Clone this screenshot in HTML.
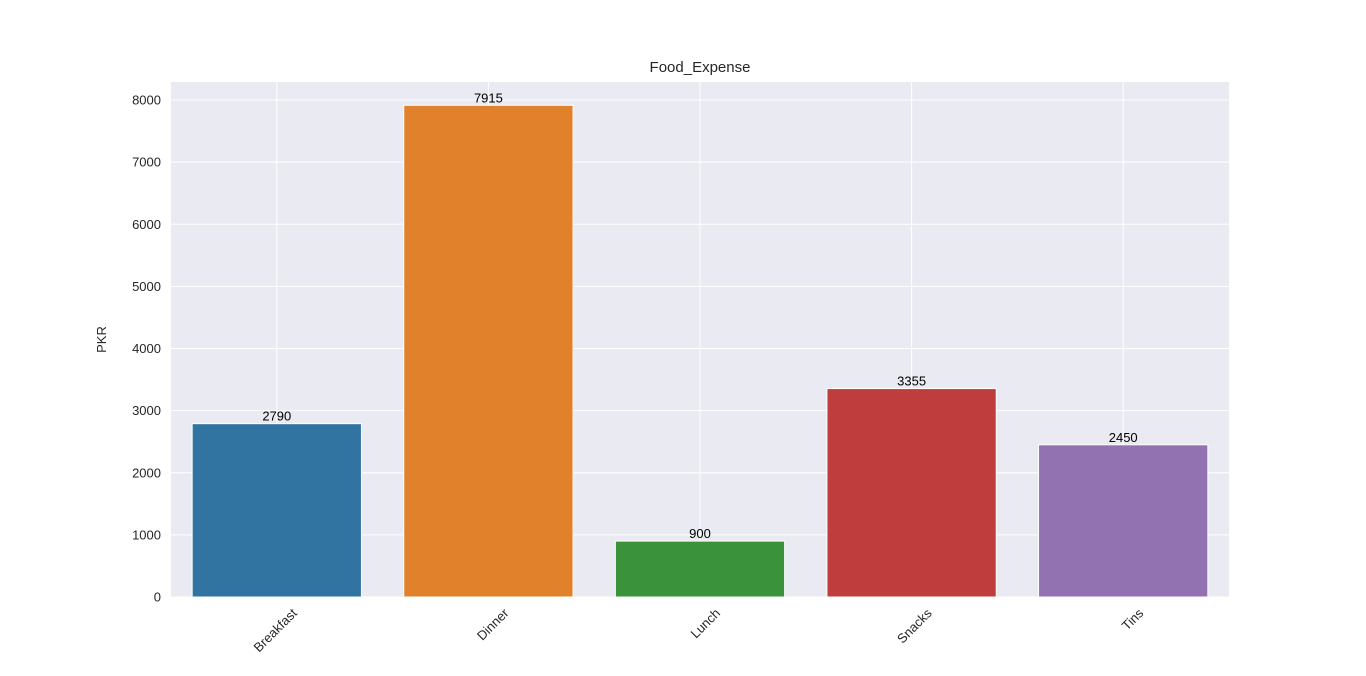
<!DOCTYPE html>
<html><head><meta charset="utf-8"><style>
body{margin:0;background:#fff;font-family:"Liberation Sans",sans-serif}
</style></head><body>
<svg id="chart" width="1366" height="671" xmlns="http://www.w3.org/2000/svg" style="font-family:'Liberation Sans',sans-serif"></svg>
<script>
const categories=["Breakfast","Dinner","Lunch","Snacks","Tins"];
const values=[2790,7915,900,3355,2450];
const yTicks=[0,1000,2000,3000,4000,5000,6000,7000,8000];
const colors=["#3274a1","#e1812c","#3a923a","#c03d3e","#9372b2"];
const L=171,R=1229,T=82,B=597,yMax=8290;
const svg=document.getElementById('chart');
const NS="http://www.w3.org/2000/svg";
function y(v){return B-(v/yMax)*(B-T);}
const step=(R-L)/categories.length;
function x(i){return L+step*(i+0.5);}
function mk(t,a,p){const e=document.createElementNS(NS,t);for(const k in a)e.setAttribute(k,a[k]);(p||svg).appendChild(e);return e;}
const bg=mk('rect',{x:L,y:T,width:R-L,height:B-T,fill:'#eaeaf2'});


yTicks.forEach(v=>{
 const g=mk('line',{x1:L,x2:R,y1:y(v),y2:y(v),stroke:'#fff','stroke-width':1});
 
 
 const t=mk('text',{x:L-10,y:y(v)+4.5,'text-anchor':'end','font-size':13,fill:'#262626'});
 t.textContent=v;
 
 
});
categories.forEach((c,i)=>{
 const g=mk('line',{x1:x(i),x2:x(i),y1:T,y2:B,stroke:'#fff','stroke-width':1});
 
 
});
const bw=step*0.8;
categories.forEach((c,i)=>{
 const r=mk('rect',{x:x(i)-bw/2,y:y(values[i]),width:bw,height:B-y(values[i]),fill:colors[i],stroke:'#fff','stroke-width':1});
 
 
 const lb=mk('text',{x:x(i),y:y(values[i])-3,'text-anchor':'middle','font-size':13,fill:'#000'});
 lb.textContent=values[i];
 
 
 const t=mk('text',{x:0,y:0,'text-anchor':'end','font-size':13,fill:'#262626',transform:`translate(${x(i)+21},${B+17}) rotate(-45)`});
 t.textContent=c;
 
 
});
const ti=mk('text',{x:(L+R)/2,y:72,'text-anchor':'middle','font-size':15,fill:'#262626'});
ti.textContent='Food_Expense';


const yl=mk('text',{x:0,y:0,'text-anchor':'middle','font-size':13,fill:'#262626',transform:`translate(106,${(T+B)/2}) rotate(-90)`});
yl.textContent='PKR';


</script>
</body></html>
